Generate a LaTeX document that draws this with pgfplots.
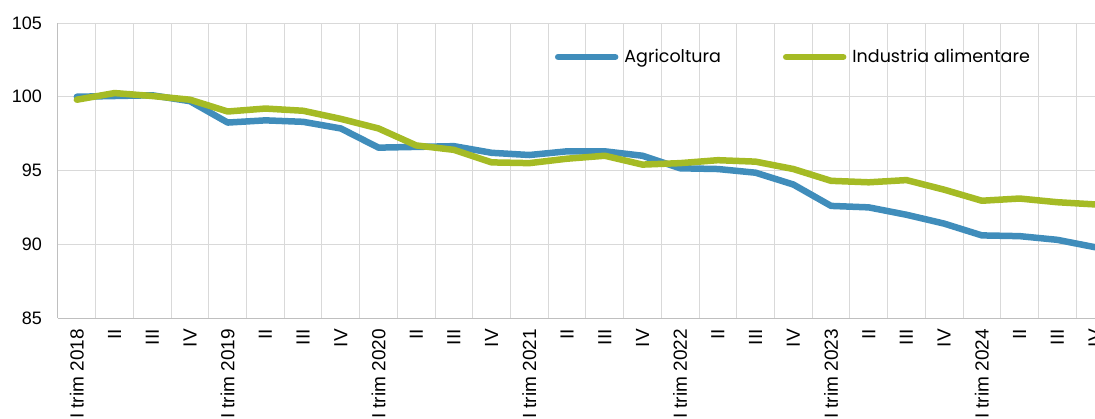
\documentclass[border=0pt]{standalone}
\usepackage{fontspec}
\setmainfont{Liberation Sans}
\newfontfamily\legfont{Poppins}
\usepackage{pgfplots}
\pgfplotsset{compat=1.18}
\definecolor{agri}{RGB}{64,141,187}
\definecolor{ind}{RGB}{165,187,37}
\definecolor{gridc}{RGB}{217,217,217}
\definecolor{axc}{RGB}{191,191,191}
\begin{document}
\begin{tikzpicture}
\begin{axis}[
  at={(0pt,0pt)}, anchor=south west,
  scale only axis, width=1037pt, height=295pt,
  xmin=-0.5, xmax=27, ymin=85, ymax=105,
  ytick={85,90,95,100,105},
  xtick={0,...,27},
  xticklabels={I trim 2018,II,III,IV,I trim 2019,II,III,IV,I trim 2020,II,III,IV,I trim 2021,II,III,IV,I trim 2022,II,III,IV,I trim 2023,II,III,IV,I trim 2024,II,III,IV},
  minor xtick={-0.5,0.5,...,26.5},
  xminorgrids=true, xmajorgrids=false, ymajorgrids=true,
  major grid style={gridc, line width=1pt},
  minor grid style={gridc, line width=1pt},
  axis lines*=left,
  axis line style={axc, line width=1pt},
  major tick length=0pt, minor tick length=0pt,
  tick style={draw=none},
  /pgf/number format/assume math mode=true,
  yticklabel style={inner sep=0pt, xshift=-16pt, font=\fontsize{18}{21}\selectfont},
  xticklabel style={rotate=90, anchor=east, inner sep=0pt, font=\fontsize{19}{22}\selectfont},
  xticklabel shift=11pt,
  legend columns=2,
  legend style={at={(0.479,0.885)}, anchor=west, draw=none, fill=none, inner sep=0pt,
    font=\legfont\fontsize{17.5}{20}\selectfont,
    nodes={inner sep=0pt},
    /tikz/every odd column/.append style={column sep=6pt},
    /tikz/every even column/.append style={column sep=62pt}},
  legend image code/.code={\draw[#1, line width=6.5pt, line cap=round] (3.25pt,0pt) -- (53.75pt,0pt); \path (0pt,0pt) -- (57pt,0pt);},
]
\addplot[agri, line width=6.5pt, line cap=round, line join=round] coordinates {
(0,100.0) (1,100.05) (2,100.1) (3,99.7) (4,98.25) (5,98.4) (6,98.3) (7,97.85)
(8,96.55) (9,96.6) (10,96.65) (11,96.2) (12,96.05) (13,96.3) (14,96.3) (15,96.0)
(16,95.15) (17,95.1) (18,94.85) (19,94.05) (20,92.6) (21,92.5) (22,92.0) (23,91.4)
(24,90.6) (25,90.55) (26,90.3) (27,89.8)};
\addlegendentry{Agricoltura}
\addplot[ind, line width=6.5pt, line cap=round, line join=round] coordinates {
(0,99.8) (1,100.25) (2,100.05) (3,99.8) (4,99.0) (5,99.2) (6,99.05) (7,98.5)
(8,97.85) (9,96.7) (10,96.4) (11,95.55) (12,95.5) (13,95.8) (14,96.0) (15,95.4)
(16,95.5) (17,95.7) (18,95.6) (19,95.1) (20,94.3) (21,94.2) (22,94.35) (23,93.7)
(24,92.95) (25,93.1) (26,92.85) (27,92.7)};
\addlegendentry{Industria alimentare}
\end{axis}
\pgfresetboundingbox
\path[use as bounding box] (-58pt,-100pt) rectangle (1037pt,318pt);
\end{tikzpicture}
\end{document}
